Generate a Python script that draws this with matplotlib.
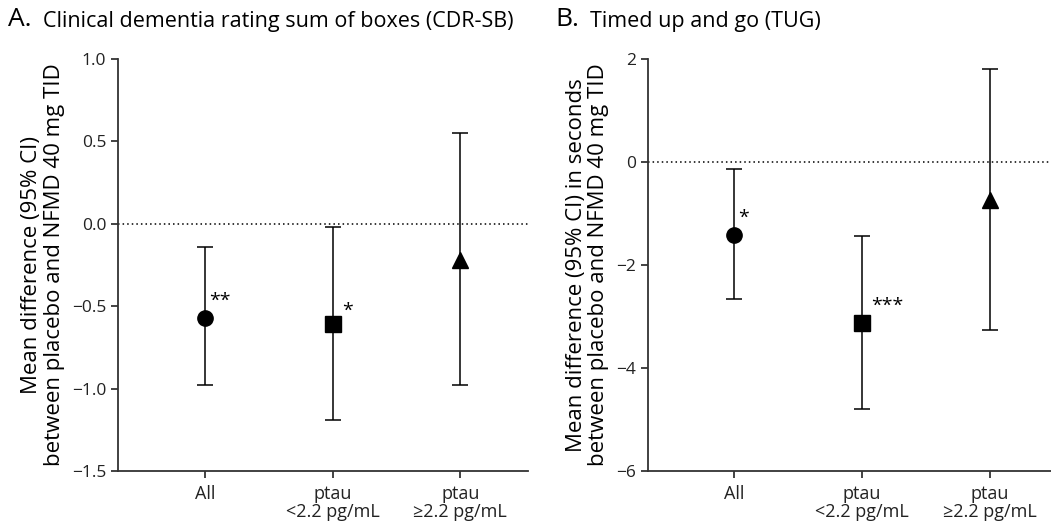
import matplotlib
matplotlib.use("Agg")
import matplotlib.pyplot as plt

plt.rcParams['font.family'] = ['Open Sans', 'DejaVu Sans']

categories = ["All", "ptau\n<2.2 pg/mL", "ptau\n\u22652.2 pg/mL"]

# Panel A: CDR-SB
a_mean = [-0.57, -0.61, -0.22]
a_low = [-0.98, -1.19, -0.98]
a_high = [-0.14, -0.02, 0.55]
a_sig = ["**", "*", ""]

# Panel B: TUG
b_mean = [-1.41, -3.12, -0.73]
b_low = [-2.67, -4.80, -3.27]
b_high = [-0.13, -1.44, 1.81]
b_sig = ["*", "***", ""]

markers = ["o", "s", "^"]
a_sig_off = [(3, 12), (7, 10), (0, 0)]
b_sig_off = [(3, 12), (7, 12), (0, 0)]

fig = plt.figure(figsize=(10.51, 5.31), dpi=100)
axA = fig.add_axes([0.1123, 0.113, 0.390, 0.776])
axB = fig.add_axes([0.6166, 0.113, 0.3834, 0.776])

def draw(ax, mean, low, high, sig, offs, xlim, ylim, yticks, yticklabels, ylabel):
    x = list(range(len(categories)))
    for i in x:
        err = [[mean[i] - low[i]], [high[i] - mean[i]]]
        ax.errorbar([i], [mean[i]], yerr=err, fmt=markers[i], color='black',
                    ecolor='black', elinewidth=1.1, capsize=6, capthick=1.1,
                    markersize=11, zorder=3)
        if sig[i]:
            ax.annotate(sig[i], (i, mean[i]), xytext=offs[i], textcoords='offset points',
                        ha='left', va='center', fontsize=14)
    ax.axhline(0, color='black', linestyle=(0, (1, 2)), linewidth=1.1, zorder=1)
    ax.set_xlim(*xlim)
    ax.set_ylim(*ylim)
    ax.set_yticks(yticks)
    ax.set_yticklabels(yticklabels)
    ax.set_xticks(x)
    ax.set_xticklabels(categories, fontsize=13, linespacing=1.0)
    ax.tick_params(axis='both', direction='out', length=5, width=1.2, labelsize=12.5,
                   colors='#222222', labelcolor='#222222')
    ax.tick_params(axis='x', pad=5, labelsize=13)
    for s in ['top', 'right']:
        ax.spines[s].set_visible(False)
    for s in ['left', 'bottom']:
        ax.spines[s].set_linewidth(1.3)
        ax.spines[s].set_color('#333333')
    ax.set_ylabel(ylabel, fontsize=16, linespacing=1.1, labelpad=5)

draw(axA, a_mean, a_low, a_high, a_sig, a_sig_off, (-0.68, 2.53), (-1.5, 1.0),
     [-1.5, -1.0, -0.5, 0.0, 0.5, 1.0],
     ["\u22121.5", "\u22121.0", "\u22120.5", "0.0", "0.5", "1.0"],
     "Mean difference (95% CI)\nbetween placebo and NFMD 40 mg TID")
draw(axB, b_mean, b_low, b_high, b_sig, b_sig_off, (-0.67, 2.48), (-6, 2),
     [-6, -4, -2, 0, 2],
     ["\u22126", "\u22124", "\u22122", "0", "2"],
     "Mean difference (95% CI) in seconds\nbetween placebo and NFMD 40 mg TID")

fig.text(0.008, 0.963, "A.", fontsize=19, va='center', ha='left')
fig.text(0.041, 0.96, "Clinical dementia rating sum of boxes (CDR-SB)", fontsize=15.5, va='center', ha='left')
fig.text(0.528, 0.963, "B.", fontsize=19, va='center', ha='left')
fig.text(0.561, 0.96, "Timed up and go (TUG)", fontsize=15.5, va='center', ha='left')

fig.savefig("out.png", dpi=100)
